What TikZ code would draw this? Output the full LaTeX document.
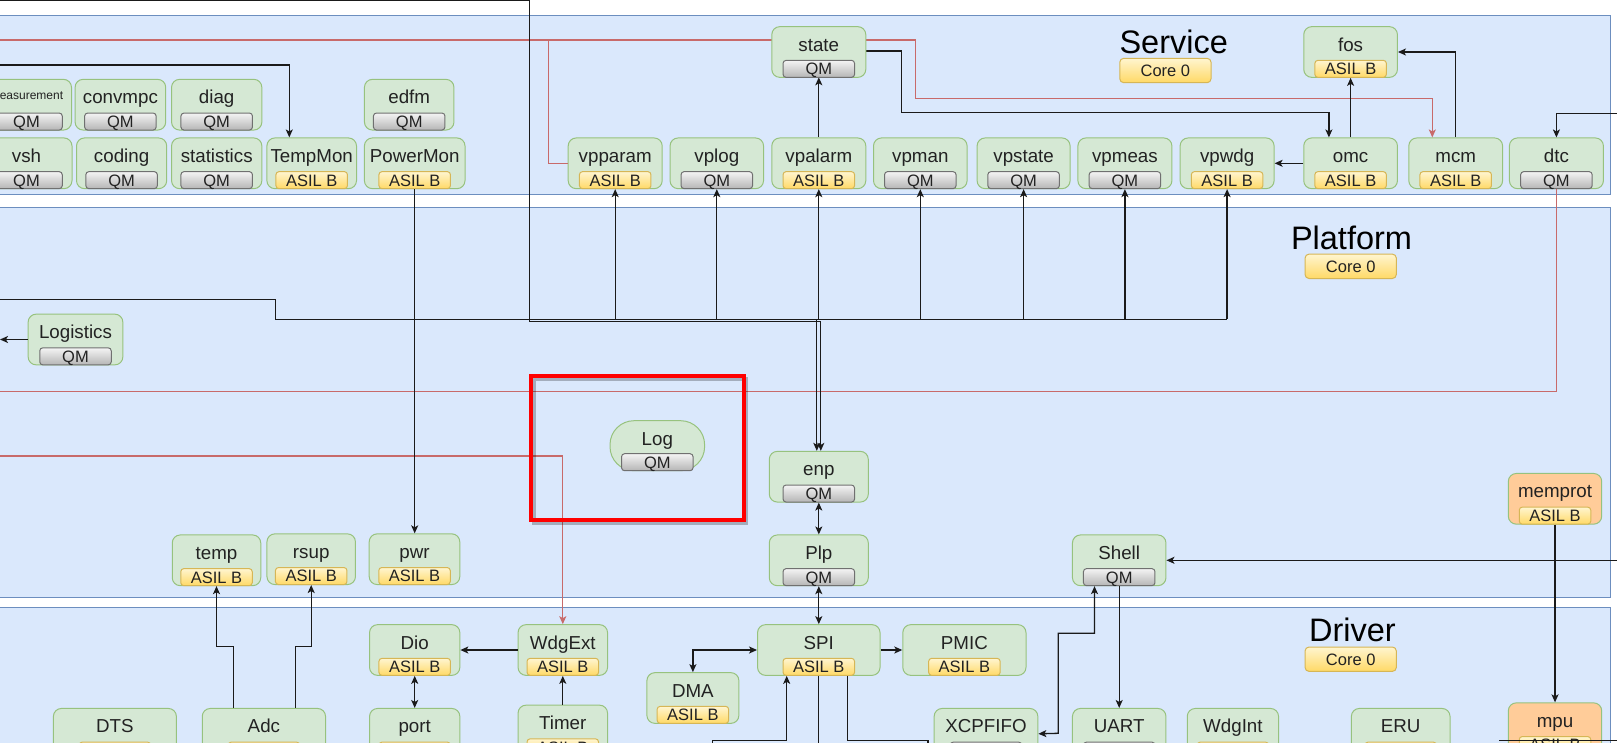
\documentclass[tikz,border=0pt]{standalone}
\usepackage{fontspec}
\setmainfont{Liberation Sans}
\usetikzlibrary{calc,arrows.meta}

\definecolor{lanefill}{HTML}{DAE8FC}
\definecolor{lanedraw}{HTML}{6C8EBF}
\definecolor{compfill}{HTML}{D5E8D4}
\definecolor{compdraw}{HTML}{97C27E}
\definecolor{orfill}{HTML}{FFCC99}
\definecolor{yelTop}{HTML}{FFF5CF}
\definecolor{yelBot}{HTML}{FFD966}
\definecolor{yelDraw}{HTML}{D6B656}
\definecolor{greyTop}{HTML}{F4F4F4}
\definecolor{greyBot}{HTML}{B5B5B5}
\definecolor{greyDraw}{HTML}{707070}
\definecolor{redline}{HTML}{C86A6A}
\definecolor{txt}{HTML}{222222}
\definecolor{edgecol}{HTML}{1A1A1A}

\tikzset{
  lane/.style={fill=lanefill, draw=lanedraw, line width=1pt},
  compbox/.style={rectangle, rounded corners=8pt, fill=compfill, draw=compdraw,
    line width=1pt, inner sep=0pt, minimum height=50.7pt},
  orbox/.style={compbox, fill=orfill},
  logbox/.style={compbox, rounded corners=24pt, minimum height=50pt},
  namelbl/.style={inner sep=0pt, anchor=base, text=txt,
    font=\fontsize{18.75}{22}\selectfont},
  badge/.style={rectangle, rounded corners=3pt, minimum width=71.5pt,
    minimum height=17pt, inner sep=0pt, line width=1pt, text=txt,
    font=\fontsize{16.5}{18}\selectfont, text height=11.8pt, text depth=0pt},
  qm/.style={badge, top color=greyTop, bottom color=greyBot, draw=greyDraw},
  asil/.style={badge, top color=yelTop, bottom color=yelBot, draw=yelDraw},
  corebadge/.style={asil, rounded corners=4pt, minimum width=91.3pt,
    minimum height=24.4pt},
  lanetitle/.style={inner sep=0pt, anchor=base, text=black,
    font=\fontsize{32.5}{36}\selectfont},
  edge/.style={draw=edgecol, line width=1.3pt},
  arr/.style={edge, -{Stealth[length=8pt,width=7pt,inset=2pt]}},
  darr/.style={edge, {Stealth[length=8pt,width=7pt,inset=2pt]}-{Stealth[length=8pt,width=7pt,inset=2pt]}},
  redge/.style={draw=redline, line width=1.3pt},
  rarr/.style={redge, -{Stealth[length=8pt,width=7pt,inset=2pt]}},
}

% component box: [box style]{name}{cx}{cy}{width}{label}{badge style}{badge text}
\newcommand{\comp}[8][compbox]{%
  \node[#1, minimum width=#5] (#2) at (#3,#4) {};
  \node[namelbl] (#2-n) at ($(#2.north)+(0,25)$) {#6};
  \node[#7] (#2-b) at ($(#2.south)+(0,-9)$) {#8};
}

\begin{document}
\begin{tikzpicture}[x=1pt,y=-1pt]
\useasboundingbox (0,0) rectangle (1617,742);
\clip (0,0) rectangle (1617,742);
\fill[white] (0,0) rectangle (1617,742);

% layers
\draw[lane] (-20,15) rectangle (1610,194);
\draw[lane] (-20,207.5) rectangle (1610,597);
\draw[lane] (-20,607) rectangle (1610,770);

\node[lanetitle] (svcT) at (1173.7,53.3) {Service};
\node[corebadge] (svcC) at (1165.4,70.5) {Core 0};
\node[lanetitle] (plfT) at (1351.5,249.3) {Platform};
\node[corebadge] (plfC) at (1350.7,266.3) {Core 0};
\node[lanetitle] (drvT) at (1352.4,641.7) {Driver};
\node[corebadge] (drvC) at (1350.7,659.2) {Core 0};

% ---------- components ----------
% Service
\comp{meas}{26.5}{104.7}{90}{\fontsize{12}{14}\selectfont\raisebox{4.3pt}{measurement}}{qm}{QM}
\comp{convmpc}{120.4}{104.7}{90.6}{convmpc}{qm}{QM}
\comp{diag}{216.7}{104.7}{90.3}{diag}{qm}{QM}
\comp{edfm}{409.2}{104.7}{89.5}{edfm}{qm}{QM}
\comp{vsh}{26.5}{163.3}{91}{vsh}{qm}{QM}
\comp{coding}{121.6}{163.3}{90.2}{coding}{qm}{QM}
\comp{statistics}{216.7}{163.3}{90.3}{statistics}{qm}{QM}
\comp{TempMon}{311.7}{163.3}{89.6}{TempMon}{asil}{ASIL B}
\comp{PowerMon}{414.7}{163.3}{100.6}{PowerMon}{asil}{ASIL B}
\comp{vpparam}{615.2}{163.3}{94}{vpparam}{asil}{ASIL B}
\comp{vplog}{716.8}{163.3}{93.5}{vplog}{qm}{QM}
\comp{vpalarm}{818.8}{163.3}{94}{vpalarm}{asil}{ASIL B}
\comp{vpman}{920.3}{163.3}{93.6}{vpman}{qm}{QM}
\comp{vpstate}{1023.6}{163.3}{93}{vpstate}{qm}{QM}
\comp{vpmeas}{1124.9}{163.3}{94}{vpmeas}{qm}{QM}
\comp{vpwdg}{1227.1}{163.3}{94}{vpwdg}{asil}{ASIL B}
\comp{omc}{1350.6}{163.3}{93.7}{omc}{asil}{ASIL B}
\comp{mcm}{1455.7}{163.3}{93.8}{mcm}{asil}{ASIL B}
\comp{dtc}{1556.4}{163.3}{94}{dtc}{qm}{QM}
\comp{fos}{1350.6}{52}{93.7}{fos}{asil}{ASIL B}

% Platform
\comp{Logistics}{75.5}{339.5}{94.7}{Logistics}{qm}{QM}
\comp[logbox]{Log}{657.3}{445.7}{94.6}{Log}{qm}{QM}
\comp{enp}{818.8}{476.7}{99}{enp}{qm}{QM}
\comp{Plp}{818.8}{560.3}{99}{Plp}{qm}{QM}
\comp{temp}{216.5}{560.3}{88.5}{temp}{asil}{ASIL B}
\comp{rsup}{311.2}{559.2}{88.5}{rsup}{asil}{ASIL B}
\comp{pwr}{414.5}{559.2}{90.6}{pwr}{asil}{ASIL B}
\comp{Shell}{1119.2}{560.3}{93.5}{Shell}{qm}{QM}
\comp[orbox]{memprot}{1555}{498.8}{93.4}{memprot}{asil}{ASIL B}

% Driver
\comp{Dio}{414.7}{650}{90.3}{Dio}{asil}{ASIL B}
\comp{WdgExt}{562.8}{650}{89.5}{WdgExt}{asil}{ASIL B}
\comp{SPI}{818.8}{650}{122.5}{SPI}{asil}{ASIL B}
\comp{PMIC}{964.4}{650}{123.2}{PMIC}{asil}{ASIL B}
\comp{DMA}{692.9}{698}{92}{DMA}{asil}{ASIL B}
\comp{DTS}{114.9}{733.8}{123}{DTS}{asil}{ASIL B}
\comp{Adc}{263.9}{733.8}{123.3}{Adc}{asil}{ASIL B}
\comp{port}{414.7}{733.8}{90.3}{port}{asil}{ASIL B}
\comp{Timer}{562.8}{730.5}{89.5}{Timer}{asil}{ASIL B}
\comp{XCPFIFO}{986}{733.8}{103.7}{XCPFIFO}{qm}{QM}
\comp{UART}{1119.2}{733.8}{93.5}{UART}{qm}{QM}
\comp{WdgInt}{1232.9}{733.8}{91.3}{WdgInt}{asil}{ASIL B}
\comp{ERU}{1400.7}{733.8}{98.7}{ERU}{asil}{ASIL B}
\comp[orbox]{mpu}{1555}{728.2}{93.4}{mpu}{asil}{ASIL B}

% ---------- connectors ----------
\coordinate (redIn) at (0,40);
\coordinate (redA) at (915.3,98.3);
\coordinate (redB) at (548.6,40);
\coordinate (redC) at (0,391.7);
\coordinate (redD) at (0,456);
\coordinate (tmIn) at (0,65);
\coordinate (dtcIn) at (1617,113.3);
\coordinate (so1) at (901.4,112.7);
\coordinate (logOut) at (0,339.5);
\coordinate (lftIn) at (0,299.3);
\coordinate (busL) at (275.5,319.3);
\coordinate (topIn) at (0,0.7);
\coordinate (aDown) at (529.6,321.7);
\coordinate (shIn) at (1617,560.3);
\coordinate (xcpBend) at (1058.2,733.3);
\coordinate (spiOut1) at (817.5,760);
\coordinate (spiOut2) at (928,740.7);
\coordinate (spiOut2e) at (928,760);
\coordinate (spiInL) at (712.8,760);
\coordinate (spiInB) at (786.7,740.7);
\coordinate (brL) at (1499.4,740.7);
\coordinate (brR) at (1617,740.7);

% red signal paths
\draw[redge] (redIn) -- (redIn -| 771.8,0);
\draw[rarr] (865.7,40) -| (redA) -| ([xshift=-23.4]mcm.north);
\draw[redge] (redB) |- (vpparam.west);
\draw[redge] (dtc.south) |- (redC);
\draw[rarr] (redD) -| (WdgExt.north);

% Service
\draw[arr] (tmIn) -| ([xshift=-22.4]TempMon.north);
\draw[arr] (865.7,51) -| (so1) -| ([xshift=-21.7]omc.north);
\draw[arr] (vpalarm.north) -- (818.8,77.3);
\draw[arr] (omc.north) -- (fos.south);
\draw[arr] (mcm.north) |- (fos.east);
\draw[arr] (omc.west) -- (vpwdg.east);
\draw[arr] (dtcIn) -| (dtc.north);

% Platform
\draw[arr] (Logistics.west) -- (logOut);
\draw[arr] (lftIn) -| (busL) -| ([xshift=-2]enp.north);
\draw[edge] (busL) -- (vpwdg.south |- busL);
\foreach \n in {vpparam,vplog,vpalarm,vpman,vpstate,vpmeas,vpwdg}
  \draw[arr] (\n.south |- busL) -- (\n.south);
\draw[arr] (topIn) -| (aDown) -| ([xshift=2]enp.north);
\draw[arr] (PowerMon.south) -- (PowerMon.south |- pwr.north);
\draw[darr] (enp.south) -- (Plp.north);
\draw[darr] (Plp.south) -- (SPI.north);
\draw[arr] (shIn) -- (Shell.east);
\draw[arr] (memprot.south) -- (mpu.north);
\draw[arr] (Shell.south) -- (UART.north);
\draw[darr] ([xshift=-24.7]Shell.south) -- ++(0,47) -| (xcpBend) -- (XCPFIFO.east);

% Driver
\draw[arr] (Timer.north) -- (WdgExt.south);
\draw[arr] (WdgExt.west) -- (Dio.east);
\draw[darr] (Dio.south) -- (port.north);
\draw[arr] ([xshift=-30.4]Adc.north) -- ++(0,-61.6) -| (temp.south);
\draw[arr] ([xshift=31.3]Adc.north) -- ++(0,-61.6) -| (rsup.south);
\draw[arr] (SPI.east) -- (PMIC.west);
\draw[darr] (SPI.west) -| (DMA.north);
\draw[edge] (SPI.south) -- (SPI.south |- spiOut1);
\draw[edge] ([xshift=29]SPI.south) |- (spiOut2) -- (spiOut2e);
\draw[arr] (spiInL) |- (spiInB) -- ([xshift=-32.1]SPI.south);
\draw[edge] (brL) -- (brR);

% state drawn over the red path
\comp{state}{818.8}{52}{94}{state}{qm}{QM}

% highlight frame around Log
\draw[black, opacity=0.25, line width=4pt] (534,379) rectangle (746,522.5);
\draw[red, line width=4pt] (531.2,376.3) rectangle (743.5,519.5);
\end{tikzpicture}
\end{document}
